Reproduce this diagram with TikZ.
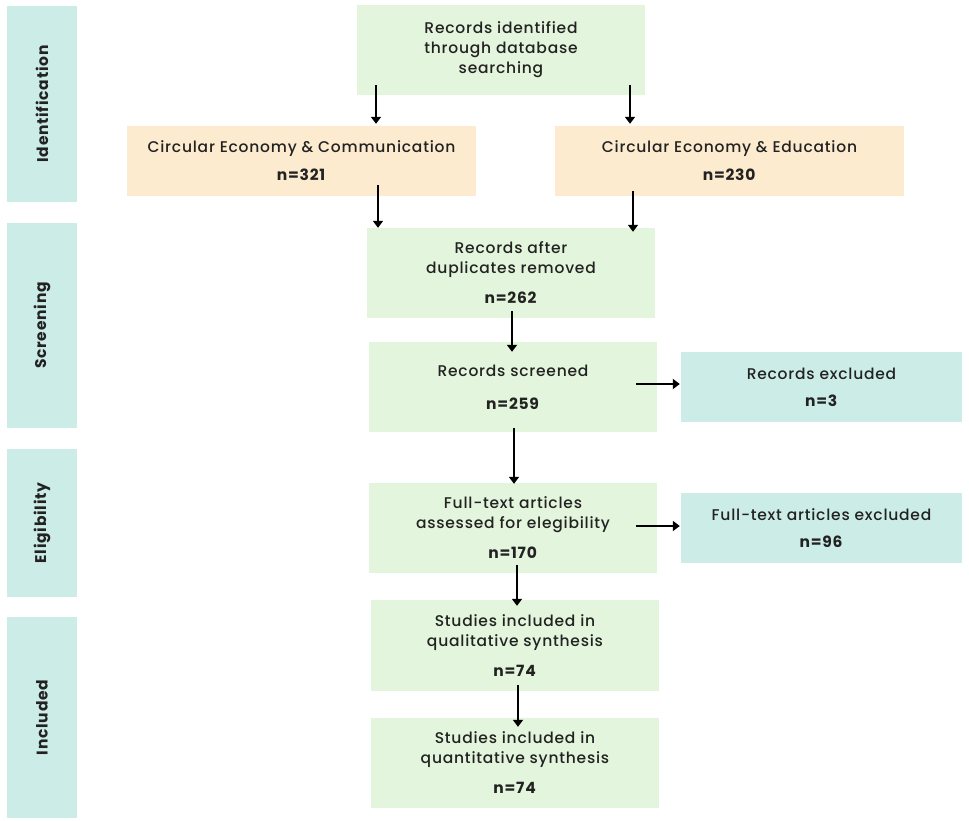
\documentclass[tikz,border=0pt]{standalone}
\usepackage{fontspec}
\setmainfont{Poppins Medium}[LetterSpace=5, BoldFont=Poppins Bold]
\usetikzlibrary{arrows.meta,calc}
\definecolor{boxgreen}{HTML}{E3F5DC}
\definecolor{boxorange}{HTML}{FCEBCF}
\definecolor{boxteal}{HTML}{CCEDE7}
\definecolor{txt}{HTML}{222222}
\begin{document}
\begin{tikzpicture}[x=1pt,y=-1pt,
  box/.style={inner sep=0pt, align=center, text=txt, font=\fontsize{15.5}{20}\selectfont},
  gbox/.style={box, fill=boxgreen, minimum width=288pt, minimum height=90pt},
  obox/.style={box, fill=boxorange, minimum width=349pt, minimum height=70pt},
  tbox/.style={box, fill=boxteal, minimum width=281pt, minimum height=70pt},
  side/.style={inner sep=0pt, fill=boxteal, text=txt, rotate=90, minimum height=70pt, font=\fontsize{15.5}{18}\selectfont\bfseries},
  arr/.style={line width=2pt, draw=black, -{Triangle[length=7pt,width=10pt]}}
]
\useasboundingbox (0,0) rectangle (969,820);
\fill[white] (0,0) rectangle (969,820);

% side labels
\node[side, minimum width=196pt] (sid) at (42,104) {Identification};
\node[side, minimum width=205pt] (sscr) at (42,325.5) {Screening};
\node[side, minimum width=148pt] (selg) at (42,523) {Eligibility};
\node[side, minimum width=201pt] (sinc) at (42,717.5) {Included};

% boxes
\node[gbox] (top) at (501,50) {Records identified\\through database\\searching};
\node[obox] (comm) at (301.5,161) {Circular Economy \& Communication\\[8pt]\textbf{n=321}};
\node[obox] (edu) at (729.5,161) {Circular Economy \& Education\\[8pt]\textbf{n=230}};
\node[gbox] (dup) at (511,273) {Records after\\duplicates removed\\[10pt]\textbf{n=262}};
\node[gbox] (scr) at (513,387) {Records screened\\[13pt]\textbf{n=259}};
\node[tbox] (excl1) at (821.5,387) {Records excluded\\[7pt]\textbf{n=3}};
\node[gbox] (full) at (513,528) {Full-text articles\\assessed for elegibility\\[10pt]\textbf{n=170}};
\node[tbox] (excl2) at (821.5,528) {Full-text articles excluded\\[7pt]\textbf{n=96}};
\node[gbox, minimum height=91pt] (qual) at (515,645.5) {Studies included in\\qualitative synthesis\\[10pt]\textbf{n=74}};
\node[gbox] (quant) at (515,763) {Studies included in\\quantitative synthesis\\[10pt]\textbf{n=74}};

% arrows
\draw[arr] ($(top.south)+(-125,-10)$) -- ($(comm.north)+(74.5,-2)$);
\draw[arr] ($(top.south)+(129,-10)$) -- ($(edu.north)+(-99.5,-2)$);
\draw[arr] ($(comm.south)+(76.5,-11)$) -- ($(dup.north)+(-133,0)$);
\draw[arr] ($(edu.south)+(-96.5,-5)$) -- ($(dup.north)+(122,4)$);
\draw[arr] ($(dup.south)+(1,-7)$) -- ($(scr.north)+(-1,10)$);
\draw[arr] ($(scr.east)+(-21,-3)$) -- ($(excl1.west)+(-1,-3)$);
\draw[arr] ($(scr.south)+(1,-4)$) -- ($(full.north)+(1,1)$);
\draw[arr] ($(full.east)+(-21,-2)$) -- ($(excl2.west)+(-1,-2)$);
\draw[arr] ($(full.south)+(4,-8)$) -- ($(qual.north)+(2,6)$);
\draw[arr] ($(qual.south)+(3,-6)$) -- ($(quant.north)+(3,9)$);
\end{tikzpicture}
\end{document}
